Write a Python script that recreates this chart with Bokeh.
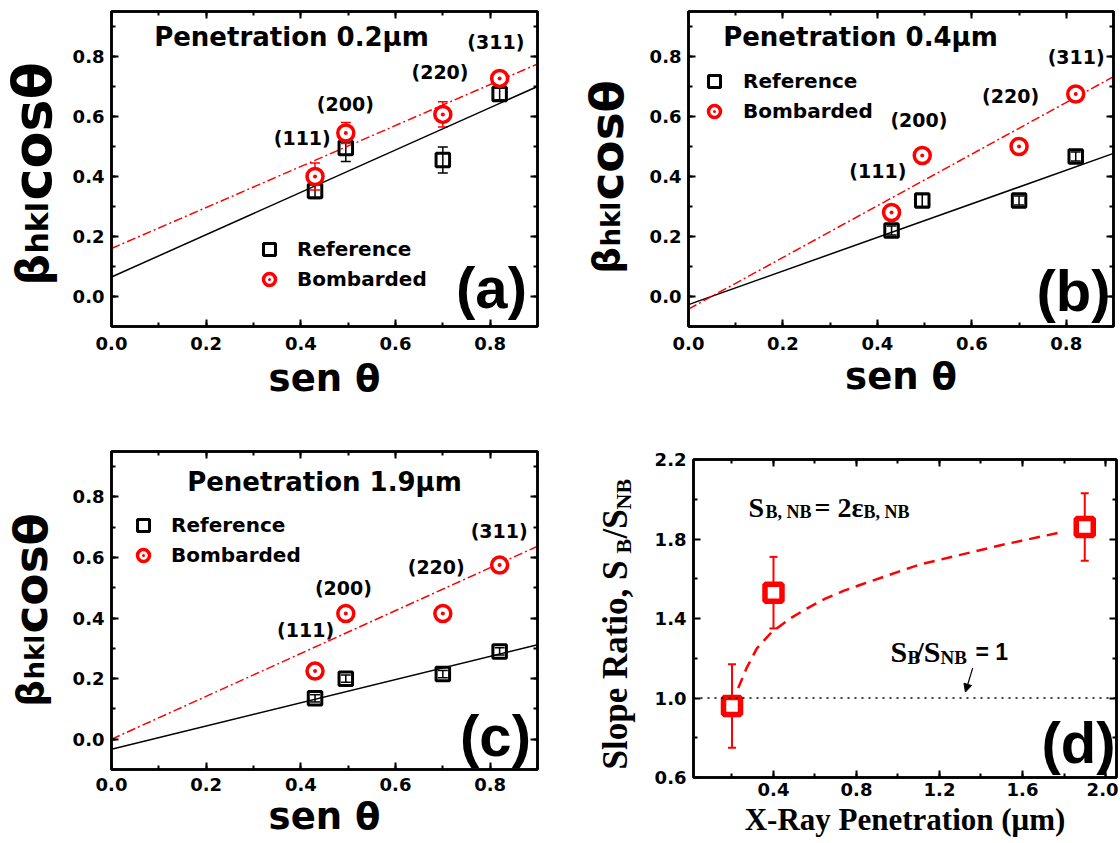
from math import pi
from bokeh.plotting import figure
from bokeh.layouts import row, column
from bokeh.models import (Label, Legend, LegendItem, Whisker, TeeHead, ColumnDataSource,
                          SingleIntervalTicker, FixedTicker, LinearAxis, PrintfTickFormatter,
                          CustomJSTickFormatter, Range1d, Span, Arrow, NormalHead)
from bokeh.embed import file_html
from bokeh.resources import INLINE

# ---------------- data ----------------
hkl_labels = ["(111)", "(200)", "(220)", "(311)"]
sin_theta = [0.43, 0.495, 0.70, 0.82]

ref_02 = [0.352, 0.495, 0.455, 0.675]
ref_02_err = [0.025, 0.045, 0.043, 0.02]
bomb_02 = [0.400, 0.545, 0.607, 0.727]
bomb_02_err = [0.045, 0.035, 0.042, 0.02]

ref_04 = [0.22, 0.32, 0.32, 0.467]
ref_04_err = [0.015, 0.02, 0.015, 0.015]
bomb_04 = [0.28, 0.47, 0.50, 0.675]
bomb_04_err = [0.015, 0.015, 0.015, 0.015]

ref_19 = [0.135, 0.20, 0.215, 0.29]
ref_19_err = [0.012, 0.012, 0.012, 0.012]
bomb_19 = [0.225, 0.415, 0.415, 0.575]
bomb_19_err = [0.012, 0.012, 0.012, 0.012]

fit_x = [0.0, 0.9]
fit_ref_02 = [0.065, 0.70]
fit_bomb_02 = [0.16, 0.775]
fit_ref_04 = [-0.027, 0.477]
fit_bomb_04 = [-0.042, 0.733]
fit_ref_19 = [-0.033, 0.312]
fit_bomb_19 = [0.0, 0.637]

penetration = [0.2, 0.4, 1.9]
slope_ratio = [0.96, 1.53, 1.86]
slope_ratio_err = [0.21, 0.18, 0.17]
trend_x = [0.23, 0.27, 0.32, 0.39, 0.48, 0.56, 0.65, 0.74, 0.82, 0.96, 1.10, 1.30, 1.50, 1.77]
trend_y = [1.05, 1.15, 1.25, 1.33, 1.40, 1.45, 1.50, 1.54, 1.57, 1.62, 1.67, 1.72, 1.77, 1.83]

# ---------------- style ----------------
SANS = "DejaVu Sans"
ARIAL = "Liberation Sans"
SERIF = "Liberation Serif"
RED = "#ff0000"
TICK_SIZE = "18px"
ROW_H = 421


def lbl(p, x, y, text, font, size, align="left", baseline="alphabetic",
        angle=0.0, color="black", style="bold", units="screen"):
    """Label; with units='screen', x/y are pixels from the frame's bottom-left corner."""
    p.add_layout(Label(x=x, y=y, x_units=units, y_units=units, text=text, text_font=font,
                       text_font_size=f"{size}px", text_font_style=style, text_align=align,
                       text_baseline=baseline, angle=angle, text_color=color))


def side_fig(width):
    """Narrow empty figure (frame = whole figure) that carries a rotated axis title."""
    f = figure(width=width, height=ROW_H, x_range=Range1d(0, width), y_range=Range1d(0, ROW_H),
               output_backend="svg", toolbar_location=None, min_border=0,
               x_axis_location=None, y_axis_location=None, frame_align=False)
    f.xgrid.grid_line_color = None
    f.ygrid.grid_line_color = None
    f.outline_line_color = None
    f.background_fill_color = "white"
    f.border_fill_color = "white"
    return f


def style_axis(ax, ticker, labels, standoff=7):
    ax.ticker = ticker
    ax.axis_line_width = 2.5
    ax.axis_line_color = "black"
    ax.major_tick_in = 7
    ax.major_tick_out = 0
    ax.minor_tick_in = 4
    ax.minor_tick_out = 0
    ax.major_tick_line_width = 2
    ax.minor_tick_line_width = 2
    ax.major_tick_line_color = "black"
    ax.minor_tick_line_color = "black"
    if labels:
        ax.formatter = PrintfTickFormatter(format="%.1f")
        ax.major_label_text_font = SANS
        ax.major_label_text_font_style = "bold"
        ax.major_label_text_font_size = TICK_SIZE
        ax.major_label_text_color = "black"
        ax.major_label_standoff = standoff
    else:
        ax.formatter = CustomJSTickFormatter(code="return ''")
        ax.major_label_text_font_size = "8px"
        ax.major_label_standoff = 0


def base_figure(width, xr, yr, borders, xticker, yticker, xstandoff):
    left, right, top, bottom = borders
    p = figure(width=width, height=ROW_H, x_range=Range1d(*xr), y_range=Range1d(*yr),
               output_backend="svg", toolbar_location=None, frame_align=False,
               min_border_left=left, min_border_right=right,
               min_border_top=top, min_border_bottom=bottom)
    p.xgrid.grid_line_color = None
    p.ygrid.grid_line_color = None
    p.outline_line_color = "black"
    p.outline_line_width = 2.5
    p.background_fill_color = "white"
    p.border_fill_color = "white"
    bottom_ax = p.below[0]
    style_axis(bottom_ax, xticker(), True, xstandoff)
    style_axis(p.left[0], yticker(), True, 7)
    top_ax = LinearAxis()
    right_ax = LinearAxis()
    style_axis(top_ax, xticker(), False)
    style_axis(right_ax, yticker(), False)
    p.add_layout(top_ax, "above")
    p.add_layout(right_ax, "right")
    return p, bottom_ax


def set_xtitle(ax, text, font, size, standoff):
    ax.axis_label = text
    ax.axis_label_text_font = font
    ax.axis_label_text_font_style = "bold"
    ax.axis_label_text_font_size = f"{size}px"
    ax.axis_label_text_color = "black"
    ax.axis_label_standoff = standoff


def whisker(p, xs, ys, errs, color, head, lw):
    src = ColumnDataSource(dict(x=xs, lower=[y - e for y, e in zip(ys, errs)],
                                upper=[y + e for y, e in zip(ys, errs)]))
    w = Whisker(source=src, base="x", upper="upper", lower="lower",
                line_color=color, line_width=lw,
                upper_head=TeeHead(size=head, line_color=color, line_width=lw),
                lower_head=TeeHead(size=head, line_color=color, line_width=lw))
    w.level = "underlay"
    p.add_layout(w)


def beta_title(width, base_x, base_y, big, small):
    """beta_hkl cos(theta), rotated, composed from main text and a subscript."""
    f = side_fig(width)
    beta_len = round(0.71 * (big - 10))
    hkl_len = round(1.72 * small)
    lbl(f, base_x, base_y, "β", SANS, big - 10, angle=pi / 2, units="data")
    lbl(f, base_x + 0.17 * small, base_y + beta_len + 1, "hkl", SANS, small,
        angle=pi / 2, units="data")
    lbl(f, base_x, base_y + beta_len + hkl_len + 2, "cosθ", SANS, big,
        angle=pi / 2, units="data")
    return f


def beta_panel(width, borders, title, title_pos, letter, letter_pos,
               ref, ref_err, bomb, bomb_err, fit_ref, fit_bomb,
               hkl_pos, legend_loc, legend_standoff, tick_standoff, title_standoff):
    xr = (0.0, 0.9)
    yr = (-0.1, 0.95)
    tick = lambda: SingleIntervalTicker(interval=0.2, num_minor_ticks=2)
    p, bax = base_figure(width, xr, yr, borders, tick, tick, tick_standoff)
    set_xtitle(bax, "sen θ", SANS, 37, title_standoff)

    p.line(fit_x, fit_ref, line_color="black", line_width=1.5)
    p.line(fit_x, fit_bomb, line_color=RED, line_width=1.5, line_dash="9 3 2 3")

    whisker(p, sin_theta, ref, ref_err, "black", 10, 1.5)
    whisker(p, sin_theta, bomb, bomb_err, RED, 10, 1.5)

    r_ref = p.scatter(sin_theta, ref, marker="square", size=13.5, line_color="black",
                      line_width=3, fill_color=None)
    r_bomb = p.scatter(sin_theta, bomb, marker="circle_dot", size=16, line_color=RED,
                       line_width=3.5, fill_color="white")

    legend = Legend(items=[LegendItem(label="Reference", renderers=[r_ref]),
                           LegendItem(label="Bombarded", renderers=[r_bomb])],
                    location=legend_loc, glyph_width=30, glyph_height=30, label_height=30,
                    spacing=0, padding=0, margin=0, label_standoff=legend_standoff,
                    background_fill_alpha=0, border_line_alpha=0,
                    label_text_font=SANS, label_text_font_style="bold",
                    label_text_font_size="20px", label_text_color="black")
    p.add_layout(legend)

    for (hx, hy), t in zip(hkl_pos, hkl_labels):
        lbl(p, hx, hy, t, SANS, 19, align="center", baseline="middle", units="data")

    lbl(p, title_pos[0], title_pos[1], title, SANS, 26, align="center", baseline="middle")
    lbl(p, letter_pos[0], letter_pos[1], letter, ARIAL, 58, align="center", baseline="middle")
    return p


# ---------------- row 1 ----------------
# frame (a): x 111-537, y 11-326 ; frame (b): x 688-1113, y 11-326
ya = beta_title(64, 32, 136, 54, 30)
pa = beta_panel(496, (47, 23, 11, 95),
                "Penetration 0.2μm", (180, 290), "(a)", (380, 39),
                ref_02, ref_02_err, bomb_02, bomb_02_err, fit_ref_02, fit_bomb_02,
                [(0.403, 0.527), (0.494, 0.643), (0.694, 0.747), (0.812, 0.85)],
                (143, 32), 13, 10, 4)

yb = beta_title(78, 46, 148, 47, 26)
pb = beta_panel(480, (50, 5, 11, 95),
                "Penetration 0.4μm", (172, 290), "(b)", (385, 36),
                ref_04, ref_04_err, bomb_04, bomb_04_err, fit_ref_04, fit_bomb_04,
                [(0.401, 0.417), (0.488, 0.587), (0.682, 0.667), (0.821, 0.797)],
                (11, 200), 14, 10, 2)

# ---------------- row 2 ----------------
# frame (c): x 111-537, y 451-769
yc = beta_title(64, 30, 136, 47, 26)
pc = beta_panel(496, (47, 23, 30, 73),
                "Penetration 1.9μm", (213, 288), "(c)", (384, 34),
                ref_19, ref_19_err, bomb_19, bomb_19_err, fit_ref_19, fit_bomb_19,
                [(0.41, 0.362), (0.49, 0.498), (0.686, 0.567), (0.819, 0.689)],
                (17, 199), 13, 8, 1)

# panel (d): frame x 693-1116, y 459-777
yd = side_fig(80)
lbl(yd, 55, 73, "Slope Ratio, S", SERIF, 35, angle=pi / 2, units="data")
lbl(yd, 63, 289, "B", SERIF, 22, angle=pi / 2, units="data")
lbl(yd, 55, 304, "/S", SERIF, 35, angle=pi / 2, units="data")
lbl(yd, 63, 333, "NB", SERIF, 22, angle=pi / 2, units="data")

dxr = (0.0145, 2.053)
dyr = (0.6, 2.2)
DFH = 318
pd, dbax = base_figure(478, dxr, dyr, (53, 2, 38, 65),
                       lambda: SingleIntervalTicker(interval=0.4, num_minor_ticks=2),
                       lambda: FixedTicker(ticks=[0.6, 1.0, 1.4, 1.8, 2.2],
                                           minor_ticks=[0.8, 1.2, 1.6, 2.0]), 5)
set_xtitle(dbax, "X-Ray Penetration (μm)", SERIF, 31, 3)
pd.add_layout(Span(location=1.0, dimension="width", line_color="black",
                   line_dash="2 5", line_width=1.5))
pd.line(trend_x, trend_y, line_color=RED, line_width=2.5, line_dash="11 7")
whisker(pd, penetration, slope_ratio, slope_ratio_err, RED, 8, 2)
pd.scatter(penetration, slope_ratio, marker="square", size=17, line_color=RED,
           line_width=5.5, fill_color="white")

pd.add_layout(Arrow(end=NormalHead(size=8, fill_color="black", line_color="black"),
                    x_start=1.36, y_start=1.15, x_end=1.325, y_end=1.03,
                    line_color="black", line_width=1.2))

# formula S_B,NB = 2 eps_B,NB
lbl(pd, 55, DFH - 48, "S", SERIF, 28)
lbl(pd, 72, DFH - 52, "B, NB", SERIF, 18)
lbl(pd, 121, DFH - 48, " = 2ε", SERIF, 28)
lbl(pd, 170, DFH - 52, "B, NB", SERIF, 18)
# S_B/S_NB = 1
lbl(pd, 197, DFH - 192, "S", SERIF, 30)
lbl(pd, 214, DFH - 198, "B", SERIF, 19)
lbl(pd, 222, DFH - 192, "/S", SERIF, 30)
lbl(pd, 247, DFH - 198, "NB", SERIF, 19)
lbl(pd, 282, DFH - 192, "= 1", ARIAL, 23)

lbl(pd, 423 - 38, 35, "(d)", ARIAL, 58, align="center", baseline="middle")

layout = column(row(ya, pa, yb, pb), row(yc, pc, yd, pd))
open("out.html", "w").write(file_html(layout, INLINE))
